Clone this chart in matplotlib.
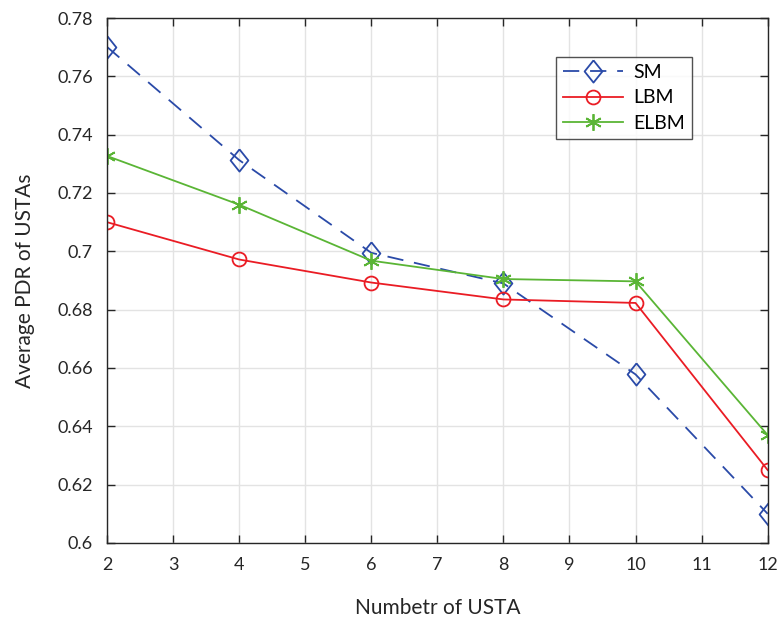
import matplotlib
matplotlib.use("Agg")
import matplotlib.pyplot as plt

plt.rcParams['font.family'] = ['Lato', 'DejaVu Sans']

# data
n_usta = [2, 4, 6, 8, 10, 12]
sm = [0.7701, 0.7313, 0.6995, 0.6890, 0.6578, 0.6100]
lbm = [0.7100, 0.6972, 0.6893, 0.6835, 0.6823, 0.6250]
elbm = [0.7327, 0.7160, 0.6968, 0.6905, 0.6897, 0.6370]

y_ticks = [0.6, 0.62, 0.64, 0.66, 0.68, 0.7, 0.72, 0.74, 0.76, 0.78]
y_labels = ['0.6', '0.62', '0.64', '0.66', '0.68', '0.7', '0.72', '0.74', '0.76', '0.78']

# matlab-like diamond, a bit taller than wide
diamond = [(0, 1), (0.8, 0), (0, -1), (-0.8, 0), (0, 1)]

fig = plt.figure(figsize=(7.77, 6.17), dpi=100)
ax = fig.add_axes([0.1377, 0.12, 0.8503, 0.8508])

ax.plot(n_usta, sm, color='#2a4aa8', linestyle=(0, (9, 6)), linewidth=1.3,
        marker=diamond, markersize=16, markerfacecolor='none', markeredgewidth=1.3, label='SM')
ax.plot(n_usta, lbm, color='#ea1c24', linewidth=1.3,
        marker='o', markersize=10, markerfacecolor='none', markeredgewidth=1.3, label='LBM')
ax.plot(n_usta, elbm, color='#5ab535', linewidth=1.3,
        marker=(6, 2, 0), markersize=12, markeredgewidth=1.3, label='ELBM')

ax.set_xlim(2, 12)
ax.set_ylim(0.6, 0.78)
ax.set_xticks(range(2, 13))
ax.set_yticks(y_ticks)
ax.set_yticklabels(y_labels)
ax.grid(True, color='#e3e3e3', linewidth=1.0)
ax.set_axisbelow(True)
ax.tick_params(direction='in', top=True, right=True, length=6, width=1.0,
               labelsize=13, colors='#262626', pad=10)
for s in ax.spines.values():
    s.set_color('#262626')
    s.set_linewidth(1.0)

ax.set_xlabel('Numbetr of USTA', fontsize=15, color='#262626', labelpad=18)
ax.set_ylabel('Average PDR of USTAs', fontsize=15, color='#262626', labelpad=16)

leg = ax.legend(loc='upper left', bbox_to_anchor=(0.680, 0.926), fontsize=14,
                frameon=True, fancybox=False, edgecolor='#262626', borderaxespad=0,
                handlelength=3.1, handletextpad=0.5, borderpad=0.35, labelspacing=0.45)
leg.get_frame().set_linewidth(1.0)

fig.savefig('out.png', dpi=100)
